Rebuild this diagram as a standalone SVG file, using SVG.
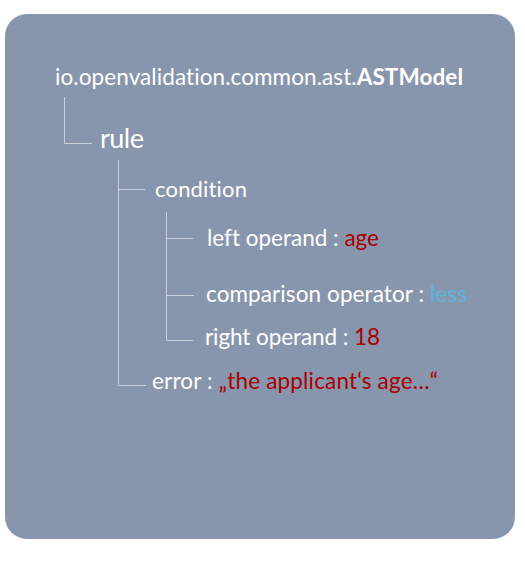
<svg xmlns="http://www.w3.org/2000/svg" width="525" height="561" viewBox="0 0 525 561">
<style>
.t{font-family:Lato,"Liberation Sans",sans-serif;fill:#ffffff;font-variant-ligatures:none}
.red{fill:#a80000}
.blue{fill:#5cb6de}
.ln{stroke:#c9ced8;stroke-width:1;fill:none}
</style>
<rect id="panel" x="5" y="14" width="510" height="525" rx="22" ry="22" fill="#8896ad"/>
<g id="connectors">
<path class="ln" d="M64.5 97 V143.5 H92"/>
<path class="ln" d="M118.5 160 V385.5 H146"/>
<path class="ln" d="M118.5 189.5 H145"/>
<path class="ln" d="M166.5 212 V340.5 H193"/>
<path class="ln" d="M166.5 238.5 H193"/>
<path class="ln" d="M166.5 295.5 H194"/>
</g>
<g id="root"><text class="t" x="55" y="85" font-size="22.5" textLength="408">io.openvalidation.common.ast.<tspan font-weight="bold">ASTModel</tspan></text></g>
<g id="rule"><text class="t" x="100" y="148" font-size="27" textLength="44">rule</text></g>
<g id="condition"><text class="t" x="155" y="197" font-size="22" textLength="92">condition</text></g>
<g id="left"><text class="t" x="207" y="246" font-size="22.5" textLength="172">left operand : <tspan class="red">age</tspan></text></g>
<g id="op"><text class="t" x="206" y="302" font-size="22.5" textLength="261">comparison operator : <tspan class="blue">less</tspan></text></g>
<g id="right"><text class="t" x="205" y="345" font-size="22.5" textLength="175">right operand : <tspan class="red">18</tspan></text></g>
<g id="error"><text class="t" x="152" y="389" font-size="22.5" textLength="286">error : <tspan class="red">„the applicant‘s age…“</tspan></text></g>
</svg>
